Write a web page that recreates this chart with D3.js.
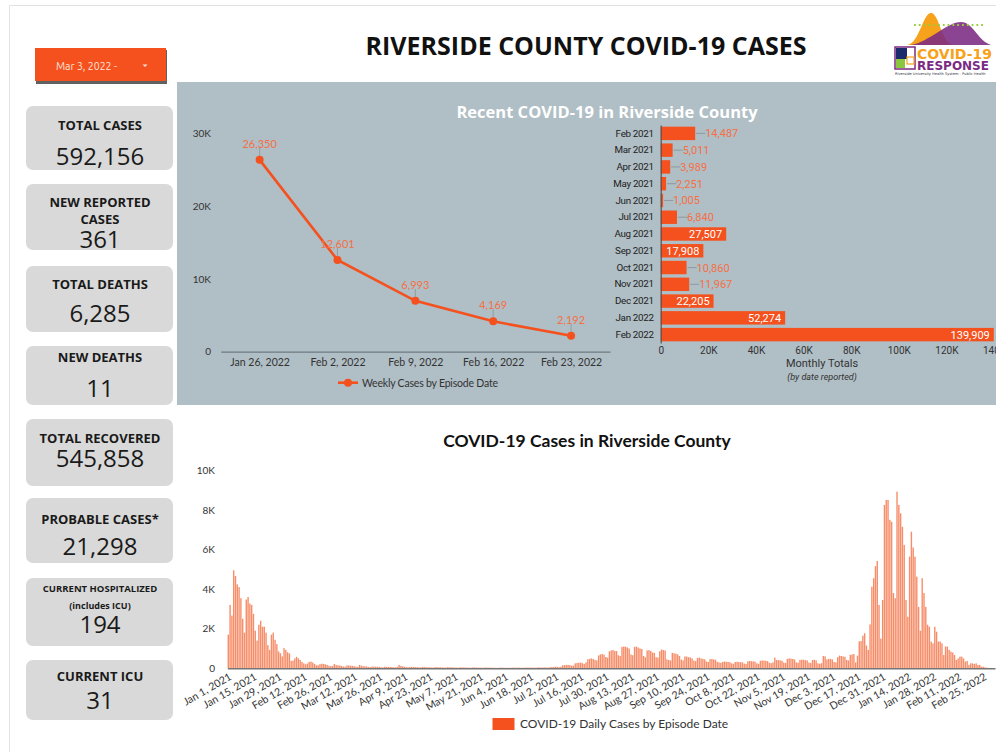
<!DOCTYPE html>
<html><head><meta charset="utf-8">
<script src="https://cdn.jsdelivr.net/npm/d3@7"></script>
<style>
html,body{margin:0;padding:0;background:#fff;}
svg{display:block;}
</style></head>
<body>
<svg id="c" width="996" height="752"></svg>
<script>
// ---------- DATA ----------
const kpiLabels = [["TOTAL CASES"],["NEW REPORTED","CASES"],["TOTAL DEATHS"],["NEW DEATHS"],["TOTAL RECOVERED"],["PROBABLE CASES*"],["CURRENT HOSPITALIZED","(includes ICU)"],["CURRENT ICU"]];
const kpiValues = ["592,156","361","6,285","11","545,858","21,298","194","31"];

const weeklyDates = ["Jan 26, 2022","Feb 2, 2022","Feb 9, 2022","Feb 16, 2022","Feb 23, 2022"];
const weeklyCases = [26350,12601,6993,4169,2192];

const months = ["Feb 2021","Mar 2021","Apr 2021","May 2021","Jun 2021","Jul 2021","Aug 2021","Sep 2021","Oct 2021","Nov 2021","Dec 2021","Jan 2022","Feb 2022"];
const monthlyTotals = [14487,5011,3989,2251,1005,6840,27507,17908,10860,11967,22205,52274,139909];
const monthlyTicks = [0,20000,40000,60000,80000,100000,120000,140000];

// daily cases by episode date, Jan 1 2021 onward
const jan21 = [1700,3200,2660,4950,4660,4240,4100,3540,2500,1800,3470,3600,3270,3200,2750,1900,1400,2200,2400,2100,2100,1800,1170,930,1700,1800,1440,1220,850,760,600];
const feb21 = [1020,930,810,750,370,390,500,580,500,420,320,250,200,240,320,340,290,220,150,160,210,230,220,200,170,130,110,120];
const mar21 = [220,170,150,140,120,90,80,150,140,130,120,110,80,70,170,130,110,100,90,70,60,90,85,80,80,70,55,50,80,75,70];
const apr21 = [70,65,55,45,75,170,120,100,80,60,50,70,75,70,65,60,50,45,70,65,60,55,50,40,40,60,55,55,50,45];
const may21 = [40,35,55,50,50,45,40,35,30,50,45,45,40,35,30,30,45,40,40,35,35,30,25,40,35,35,30,30,25,20,20];
const jun21 = [35,35,30,30,30,25,25,35,35,30,35,30,25,25,35,40,35,35,35,30,30,45,45,40,45,45,35,40,55,60];
const jul21 = [70,80,75,60,80,150,160,170,175,160,130,140,250,270,280,290,260,220,300,450,480,500,470,420,400,650,700,720,690,570,540];
const aug21 = [860,900,920,880,870,660,620,1080,1100,1090,1050,1000,700,660,1080,1100,1050,1000,980,620,560,900,920,880,800,780,560,540,860,950,920];
const sep21 = [900,450,420,400,780,760,740,700,620,440,400,600,590,560,550,500,390,360,520,540,500,480,450,350,320,460,470,450,430,330];
const oct21 = [300,280,320,340,330,320,310,250,230,320,330,320,310,300,240,220,350,370,360,350,340,250,230,380,400,390,380,360,280,260,300];
const nov21 = [540,420,410,400,380,290,270,480,500,490,470,450,300,280,420,440,430,410,400,290,270,420,430,400,250,230,260,620,600,450];
const dec21 = [480,470,450,320,300,560,640,620,600,580,420,400,680,700,720,300,640,1360,1380,1650,1770,1150,930,2220,4120,4550,5160,5420,3200,1500,3450];
const jan22 = [8250,8500,8500,7500,7400,3800,3540,8920,8250,7830,7150,6230,3450,2600,5640,6900,6100,5640,4630,3100,1900,4550,3800,3100,2200,2100,1350,1260,2100,1850,1350];
const feb22 = [1350,1260,670,1100,1100,930,840,800,670,420,500,590,590,500,340,370,170,250,250,220,250,170,170,80,80,50,30,20];
const dailyTicks = [0,2000,4000,6000,8000,10000];

const dailyCases = [].concat(jan21,feb21,mar21,apr21,may21,jun21,jul21,aug21,sep21,oct21,nov21,dec21,jan22,feb22);
const startDate = new Date(2021,0,1);
const totalDays = 427; // Jan 1 2021 .. Mar 3 2022 axis span

// ---------- DRAW ----------
const svg = d3.select("#c");
const ORANGE = "#f4511e";
const LABEL_OR = "#f57046";

// page border
svg.append("path").attr("d","M9.5,752 L9.5,5.5 L996,5.5").attr("fill","none").attr("stroke","#e2e2e2").attr("stroke-width",1);

// date button
svg.append("rect").attr("x",36).attr("y",50).attr("width",131).attr("height",34).attr("fill","#3a3a3a").attr("opacity",0.8);
svg.append("rect").attr("x",35).attr("y",48).attr("width",131).attr("height",33).attr("fill",ORANGE);
svg.append("text").attr("x",56).attr("y",70).attr("font-family","Ubuntu, 'Open Sans', sans-serif").attr("font-size",10.5).attr("fill","#fde3d8").text("Mar 3, 2022 -");
svg.append("path").attr("d","M142.5,64.5 L147.5,64.5 L145,67 Z").attr("fill","#fde3d8");

// main title
svg.append("text").attr("x",586).attr("y",55).attr("text-anchor","middle")
  .attr("font-family","'Open Sans', sans-serif").attr("font-weight",700).attr("font-size",25).attr("fill","#111")
  .text("RIVERSIDE COUNTY COVID-19 CASES");

// logo
const logo = svg.append("g");
logo.append("path").attr("d","M907,45 C919,44 923,13 931,13 C939,13 941,42 953,45 Z").attr("fill","#f7a21b");
logo.append("path").attr("d","M911,45 C929,42 947,22 961,22 C973,22 978,41 991,45 Z").attr("fill","#7b2a83").attr("opacity",0.88);
logo.append("line").attr("x1",914).attr("x2",986).attr("y1",25).attr("y2",25).attr("stroke","#9ccc3c").attr("stroke-width",1.8).attr("stroke-dasharray","1.8,3");
logo.append("rect").attr("x",895).attr("y",47).attr("width",20).attr("height",22).attr("fill","none").attr("stroke","#7b2a83").attr("stroke-width",1.5);
logo.append("rect").attr("x",896).attr("y",48).attr("width",11).attr("height",11).attr("fill","#1b2a6b");
logo.append("rect").attr("x",896).attr("y",59).attr("width",9).attr("height",9).attr("fill","#8cc63f");
logo.append("rect").attr("x",907).attr("y",57).attr("width",7).attr("height",7).attr("fill","none").attr("stroke","#f7a21b").attr("stroke-width",1.2);
logo.append("text").attr("x",917).attr("y",59).attr("font-family","'DejaVu Sans', sans-serif").attr("font-weight",700).attr("font-size",14).attr("fill","#f7a21b").text("COVID-19");
logo.append("text").attr("x",917).attr("y",70).attr("font-family","'DejaVu Sans', sans-serif").attr("font-weight",700).attr("font-size",12).attr("fill","#7b2a83").text("RESPONSE");
logo.append("text").attr("x",895).attr("y",74.5).attr("font-family","'DejaVu Sans', sans-serif").attr("font-size",3.6).attr("fill","#334").text("Riverside University Health System - Public Health");

// KPI cards
const cardY = [106,184,266,346,419,498,578,660];
const cardH = [64,66,66,59,67,65,68,60];
kpiLabels.forEach((lab,i)=>{
  const g = svg.append("g");
  g.append("rect").attr("x",26).attr("y",cardY[i]).attr("width",147).attr("height",cardH[i]).attr("rx",7).attr("fill","#d9d9d9");
  const small = i===6;
  const fs = small?9.5:13;
  const labY = [130,207,289,362,443,524,592,681][i];
  lab.forEach((t,j)=>{
    g.append("text").attr("x",100).attr("y",labY + j*(small?16.5:17)).attr("text-anchor","middle")
      .attr("font-family","'Open Sans', sans-serif").attr("font-weight",700).attr("font-size",(small&&j===1)?9:fs).attr("fill","#1a1a1a").text(t);
  });
  const valY = [165,248,322,397,467,555,633,709][i];
  g.append("text").attr("x",100).attr("y",valY).attr("text-anchor","middle")
    .attr("font-family","'Open Sans', sans-serif").attr("font-size",24).attr("fill","#1a1a1a").text(kpiValues[i]);
});

// grey panel
svg.append("rect").attr("x",177).attr("y",82).attr("width",819).attr("height",323).attr("fill","#b0bec5");
svg.append("text").attr("x",607).attr("y",118).attr("text-anchor","middle")
  .attr("font-family","'Open Sans', sans-serif").attr("font-weight",700).attr("font-size",16.5).attr("fill","#fff")
  .text("Recent COVID-19 in Riverside County");

// ---- line chart ----
const lx = d3.scalePoint().domain(weeklyDates).range([220.7,610]).padding(0.5);
const ly = d3.scaleLinear().domain([0,30000]).range([351.7,133.3]);
const LF = "Lato, sans-serif";
const lyAxis = svg.append("g").attr("transform","translate(212,0)")
  .call(d3.axisLeft(ly).tickValues([0,10000,20000,30000]).tickSize(0).tickFormat(d=>d===0?"0":(d/1000)+"K"));
lyAxis.select(".domain").remove();
lyAxis.selectAll("text").attr("font-family",LF).attr("font-size",10).attr("fill","#333").attr("x",-1);
const lxAxis = svg.append("g").attr("transform","translate(0,351.7)")
  .call(d3.axisBottom(lx).tickSize(0).tickPadding(7));
lxAxis.select(".domain").attr("stroke","#6f7a80").attr("stroke-width",1.2);
lxAxis.selectAll("text").attr("font-family",LF).attr("font-size",10.5).attr("fill","#333");

svg.append("path").datum(weeklyCases)
  .attr("d",d3.line().x((d,i)=>lx(weeklyDates[i])).y(d=>ly(d)))
  .attr("fill","none").attr("stroke",ORANGE).attr("stroke-width",2.6);
svg.selectAll(".wl").data(weeklyCases).join("line")
  .attr("x1",(d,i)=>lx(weeklyDates[i])).attr("x2",(d,i)=>lx(weeklyDates[i]))
  .attr("y1",d=>ly(d)-12).attr("y2",d=>ly(d)-4).attr("stroke","#8a959b").attr("stroke-width",0.8);
svg.selectAll(".wd").data(weeklyCases).join("circle")
  .attr("cx",(d,i)=>lx(weeklyDates[i])).attr("cy",d=>ly(d)).attr("r",4).attr("fill",ORANGE);
svg.selectAll(".wt").data(weeklyCases).join("text")
  .attr("x",(d,i)=>lx(weeklyDates[i])).attr("y",d=>ly(d)-12).attr("text-anchor","middle")
  .attr("font-family",LF).attr("font-size",11).attr("fill",LABEL_OR).text(d=>d3.format(",")(d));
// legend
svg.append("line").attr("x1",338).attr("x2",358).attr("y1",382.7).attr("y2",382.7).attr("stroke",ORANGE).attr("stroke-width",2.6);
svg.append("circle").attr("cx",348).attr("cy",382.7).attr("r",4).attr("fill",ORANGE);
svg.append("text").attr("x",362).attr("y",386.5).attr("font-family",LF).attr("font-size",10.5).attr("fill","#333").attr("letter-spacing",-0.2).text("Weekly Cases by Episode Date");

// ---- monthly bar chart ----
const RF = "Roboto, sans-serif";
const bx = d3.scaleLinear().domain([0,140000]).range([660.7,994]);
const by = d3.scaleBand().domain(months).range([125,343]).paddingInner(0.2).paddingOuter(0.1);
svg.selectAll(".mb").data(monthlyTotals).join("rect")
  .attr("x",bx(0)).attr("y",(d,i)=>by(months[i])).attr("width",d=>bx(d)-bx(0)).attr("height",by.bandwidth()).attr("fill",ORANGE);
const byAxis = svg.append("g").attr("transform","translate(660.7,0)")
  .call(d3.axisLeft(by).tickSize(0).tickPadding(7));
byAxis.select(".domain").attr("stroke","#555").attr("stroke-width",1.2);
byAxis.selectAll("text").attr("font-family",RF).attr("font-size",9.8).attr("fill","#222").attr("letter-spacing",-0.3);
const bxAxis = svg.append("g").attr("transform","translate(0,344)")
  .call(d3.axisBottom(bx).tickValues(monthlyTicks).tickSize(0).tickPadding(3).tickFormat(d=>d===0?"0":(d/1000)+"K"));
bxAxis.select(".domain").remove();
bxAxis.selectAll("text").attr("font-family",RF).attr("font-size",10).attr("fill","#333");
monthlyTotals.forEach((v,i)=>{
  const yc = by(months[i]) + by.bandwidth()/2;
  if (v > 15000) {
    svg.append("text").attr("x",bx(v)-4).attr("y",yc+4).attr("text-anchor","end")
      .attr("font-family",RF).attr("font-size",11).attr("fill","#fff").text(d3.format(",")(v));
  } else {
    svg.append("line").attr("x1",bx(v)+1).attr("x2",bx(v)+10).attr("y1",yc).attr("y2",yc).attr("stroke","#8a959b").attr("stroke-width",0.9);
    svg.append("text").attr("x",bx(v)+10).attr("y",yc+4)
      .attr("font-family",RF).attr("font-size",11).attr("fill",LABEL_OR).text(d3.format(",")(v));
  }
});
svg.append("text").attr("x",822).attr("y",366.5).attr("text-anchor","middle").attr("font-family",RF).attr("font-size",11).attr("fill","#333").text("Monthly Totals");
svg.append("text").attr("x",822).attr("y",380).attr("text-anchor","middle").attr("font-family",RF).attr("font-style","italic").attr("font-size",9).attr("fill","#333").text("(by date reported)");

// ---- daily chart ----
svg.append("text").attr("x",587).attr("y",447).attr("text-anchor","middle")
  .attr("font-family",LF).attr("font-weight",700).attr("font-size",17.5).attr("fill","#111")
  .text("COVID-19 Cases in Riverside County");
const dx = d3.scaleLinear().domain([-0.5,totalDays-0.5]).range([227.4,995]);
const dy = d3.scaleLinear().domain([0,10000]).range([668.3,470.3]);
const dyAxis = svg.append("g").attr("transform","translate(218,0)")
  .call(d3.axisLeft(dy).tickValues(dailyTicks).tickSize(0).tickFormat(d=>d===0?"0":(d/1000)+"K"));
dyAxis.select(".domain").remove();
dyAxis.selectAll("text").attr("font-family",LF).attr("font-size",10).attr("fill","#333");
svg.append("g").selectAll("rect").data(dailyCases).join("rect")
  .attr("x",(d,i)=>dx(i)-0.7).attr("width",1.4)
  .attr("y",d=>dy(d)).attr("height",d=>dy(0)-dy(d))
  .attr("fill","#f3612f").attr("opacity",0.72);
const tickIdx = d3.range(0,421,14);
const fmt = d3.timeFormat("%b %-d, %Y");
const dxAxis = svg.append("g").attr("transform","translate(0,668.3)")
  .call(d3.axisBottom(dx).tickValues(tickIdx).tickSize(0).tickFormat(i=>fmt(d3.timeDay.offset(startDate,i))));
dxAxis.select(".domain").attr("stroke","#777").attr("stroke-width",1.4);
dxAxis.selectAll("text").attr("font-family",LF).attr("font-size",10.5).attr("fill","#333")
  .attr("text-anchor","end").attr("dy",0).attr("transform","translate(2,8) rotate(-30)");
svg.append("rect").attr("x",492.5).attr("y",718).attr("width",22).attr("height",12).attr("fill",ORANGE);
svg.append("text").attr("x",520).attr("y",728).attr("font-family",LF).attr("font-size",12).attr("fill","#333").text("COVID-19 Daily Cases by Episode Date");
</script>
</body></html>
